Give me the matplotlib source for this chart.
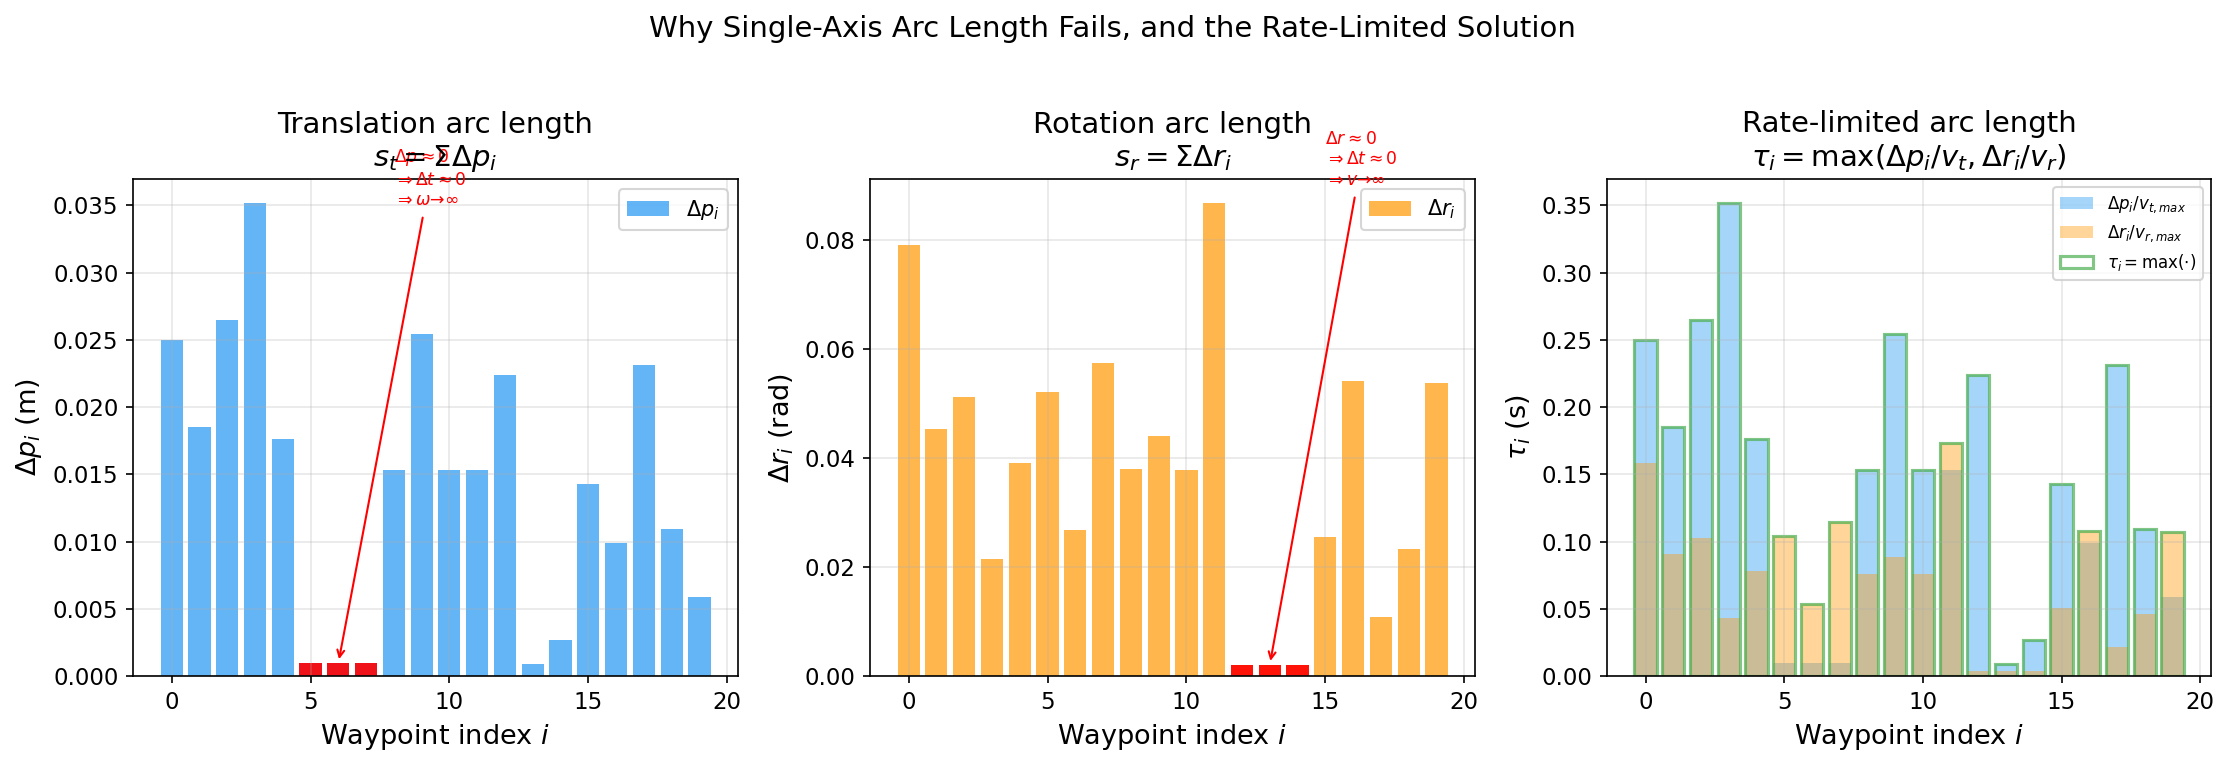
import numpy as np
import matplotlib
matplotlib.use("Agg")
import matplotlib.pyplot as plt

# ---------------- data ----------------
waypoints = np.arange(20)
delta_p = np.array([0.0250, 0.0185, 0.0265, 0.0352, 0.0176, 0.00094, 0.00094, 0.00094,
                    0.0153, 0.0254, 0.0153, 0.0153, 0.0224, 0.0009, 0.0027, 0.0143,
                    0.0099, 0.0231, 0.0109, 0.0059])
delta_r = np.array([0.0791, 0.0453, 0.0512, 0.0214, 0.0390, 0.0521, 0.0268, 0.0574,
                    0.0379, 0.0441, 0.0378, 0.0868, 0.0020, 0.0020, 0.0020, 0.0254,
                    0.0541, 0.0108, 0.0232, 0.0537])
v_t_max = 0.1
v_r_max = 0.5
small_p_idx = [5, 6, 7]
small_r_idx = [12, 13, 14]

t_trans = delta_p / v_t_max
t_rot = delta_r / v_r_max
tau = np.maximum(t_trans, t_rot)

BLUE = "#2196F3"
ORANGE = "#FF9800"
GREEN = "#4CAF50"

# ---------------- figure ----------------
W, H = 2225, 767
DPI = 150
fig = plt.figure(figsize=(W / DPI, H / DPI), dpi=DPI)


def ax_at(x0, x1, top=179, bottom=676):
    return fig.add_axes([x0 / W, (H - bottom) / H, (x1 - x0) / W, (bottom - top) / H])


ax1 = ax_at(133, 738)
ax2 = ax_at(870, 1475)
ax3 = ax_at(1607, 2211)

TICK = 11
LAB = 13
TIT = 14
ANN = 8.3

# Panel 1: translation
ax1.bar(waypoints, delta_p, color=BLUE, alpha=0.7, label=r"$\Delta p_i$")
ax1.bar(waypoints[small_p_idx], delta_p[small_p_idx], color="red", alpha=0.9)
ax1.annotate("$\\Delta p \\approx 0$\n$\\Rightarrow \\Delta t \\approx 0$\n$\\Rightarrow \\omega$→∞",
             xy=(6, delta_p[6]), xytext=(8, 0.035), color="red", fontsize=ANN,
             arrowprops=dict(arrowstyle="->", color="red", lw=1))
ax1.set_title("Translation arc length\n$s_t = \\Sigma \\Delta p_i$", fontsize=TIT)
ax1.set_xlabel("Waypoint index $i$", fontsize=LAB)
ax1.set_ylabel(r"$\Delta p_i$ (m)", fontsize=LAB)
ax1.legend(loc="upper right", fontsize=10)

# Panel 2: rotation
ax2.bar(waypoints, delta_r, color=ORANGE, alpha=0.7, label=r"$\Delta r_i$")
ax2.bar(waypoints[small_r_idx], delta_r[small_r_idx], color="red", alpha=0.9)
ax2.annotate("$\\Delta r \\approx 0$\n$\\Rightarrow \\Delta t \\approx 0$\n$\\Rightarrow v$→∞",
             xy=(13, delta_r[13]), xytext=(15, 0.09), color="red", fontsize=ANN,
             arrowprops=dict(arrowstyle="->", color="red", lw=1))
ax2.set_title("Rotation arc length\n$s_r = \\Sigma \\Delta r_i$", fontsize=TIT)
ax2.set_xlabel("Waypoint index $i$", fontsize=LAB)
ax2.set_ylabel(r"$\Delta r_i$ (rad)", fontsize=LAB)
ax2.legend(loc="upper right", fontsize=10)

# Panel 3: rate-limited
ax3.bar(waypoints, t_trans, color=BLUE, alpha=0.4, label=r"$\Delta p_i / v_{t,max}$")
ax3.bar(waypoints, t_rot, color=ORANGE, alpha=0.4, label=r"$\Delta r_i / v_{r,max}$")
ax3.bar(waypoints, tau, fill=False, edgecolor=GREEN, linewidth=1.5, alpha=0.7,
        label=r"$\tau_i = \max(\cdot)$")
ax3.set_title("Rate-limited arc length\n$\\tau_i = \\max(\\Delta p_i / v_t, \\Delta r_i / v_r)$",
              fontsize=TIT)
ax3.set_xlabel("Waypoint index $i$", fontsize=LAB)
ax3.set_ylabel(r"$\tau_i$ (s)", fontsize=LAB)
ax3.legend(loc="upper right", fontsize=8)

for ax in (ax1, ax2, ax3):
    ax.grid(True, alpha=0.3)
    ax.tick_params(labelsize=TICK)

fig.suptitle("Why Single-Axis Arc Length Fails, and the Rate-Limited Solution", fontsize=14)

fig.savefig("out.png", dpi=DPI)
